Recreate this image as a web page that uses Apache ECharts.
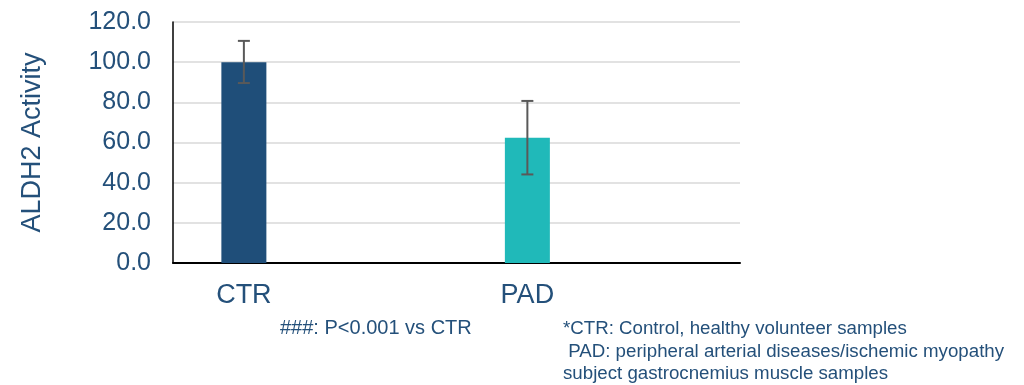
<!DOCTYPE html>
<html>
<head>
<meta charset="utf-8">
<script src="https://cdn.jsdelivr.net/npm/echarts@6/dist/echarts.min.js"></script>
<style>
  html, body { margin: 0; padding: 0; background: #fff; }
  #chart { width: 1024px; height: 385px; }
</style>
</head>
<body>
<div id="chart"></div>
<script>
// categories (empty slots keep the Excel-like spacing)
var categories = ['CTR', '', 'PAD', ''];
var activity = [100.0, null, 62.4, null];
var errLow = [89.6, null, 44.1, null];
var errHigh = [110.6, null, 80.7, null];
var barColors = ['#1f4e79', '#1f4e79', '#20b9b9', '#20b9b9'];

var yTicks = { min: 0, max: 120, interval: 20 };

var textColor = '#24507a';

var chart = echarts.init(document.getElementById('chart'));

var errData = [];
categories.forEach(function (c, i) {
  if (errLow[i] != null) errData.push([i, errLow[i], errHigh[i]]);
});

var option = {
  animation: false,
  grid: { left: 173, right: 284, top: 22, bottom: 122 },
  xAxis: {
    type: 'category',
    data: categories,
    axisLine: { lineStyle: { color: '#000', width: 2 } },
    axisTick: { show: false },
    axisLabel: {
      color: textColor,
      fontSize: 27,
      fontFamily: 'Liberation Sans',
      margin: 19
    }
  },
  yAxis: {
    type: 'value',
    min: yTicks.min,
    max: yTicks.max,
    interval: yTicks.interval,
    name: 'ALDH2 Activity',
    nameLocation: 'middle',
    nameGap: 127,
    nameTextStyle: { color: textColor, fontSize: 27, fontFamily: 'Liberation Sans' },
    axisLine: { show: true, lineStyle: { color: '#000', width: 1.5 } },
    axisTick: { show: false },
    axisLabel: {
      color: textColor,
      fontSize: 25,
      fontFamily: 'Liberation Sans',
      margin: 22,
      formatter: function (v) { return v.toFixed(1); }
    },
    splitLine: { lineStyle: { color: '#d9d9d9', width: 1.5 } }
  },
  series: [
    {
      type: 'bar',
      barWidth: 45,
      data: activity.map(function (v, i) {
        return { value: v, itemStyle: { color: barColors[i] } };
      })
    },
    {
      type: 'custom',
      data: errData,
      z: 10,
      renderItem: function (params, api) {
        var lo = api.coord([api.value(0), api.value(1)]);
        var hi = api.coord([api.value(0), api.value(2)]);
        var cap = 6;
        var style = { stroke: '#595959', lineWidth: 2 };
        return {
          type: 'group',
          children: [
            { type: 'line', shape: { x1: hi[0], y1: hi[1], x2: lo[0], y2: lo[1] }, style: style },
            { type: 'line', shape: { x1: hi[0] - cap, y1: hi[1], x2: hi[0] + cap, y2: hi[1] }, style: style },
            { type: 'line', shape: { x1: lo[0] - cap, y1: lo[1], x2: lo[0] + cap, y2: lo[1] }, style: style }
          ]
        };
      }
    }
  ],
  graphic: [
    {
      type: 'text', left: 280, top: 318,
      style: { text: '###: P<0.001 vs CTR', fill: textColor, fontSize: 20, fontFamily: 'Liberation Sans' }
    },
    {
      type: 'text', left: 563, top: 318,
      style: {
        text: '*CTR: Control, healthy volunteer samples\n PAD: peripheral arterial diseases/ischemic myopathy\nsubject gastrocnemius muscle samples',
        fill: textColor, fontSize: 18.7, lineHeight: 22.5, fontFamily: 'Liberation Sans'
      }
    }
  ]
};

chart.setOption(option);
</script>
</body>
</html>
